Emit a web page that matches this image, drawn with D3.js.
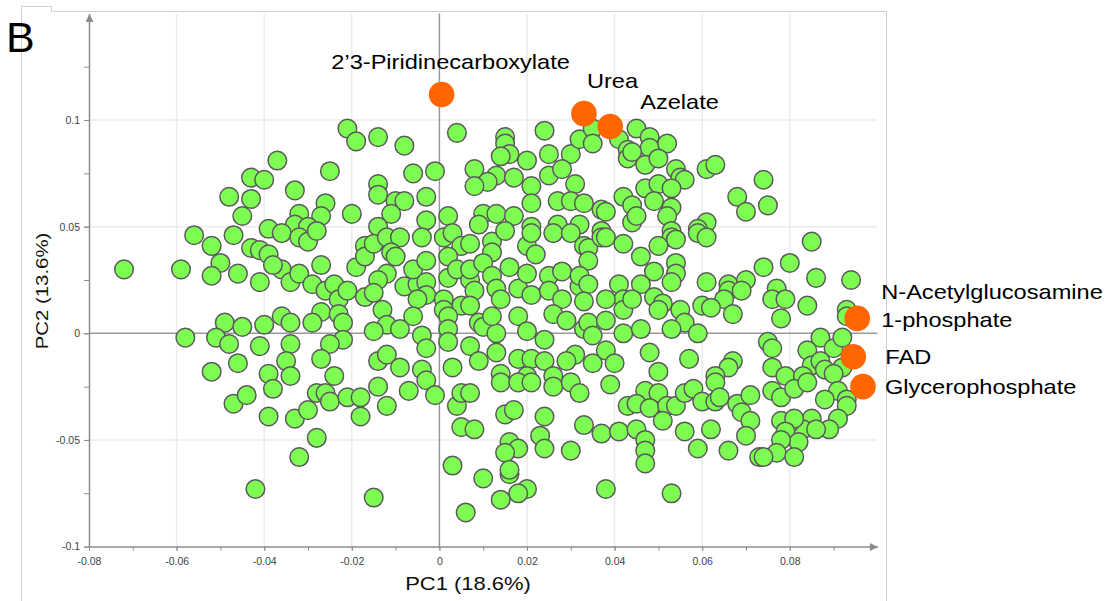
<!DOCTYPE html>
<html>
<head>
<meta charset="utf-8">
<script src="https://cdn.jsdelivr.net/npm/d3@7"></script>
<style>
  html, body { margin: 0; padding: 0; background: #ffffff; }
  svg { display: block; font-family: "Liberation Sans", Arial, sans-serif; }
</style>
</head>
<body>
<div id="chart"></div>
<script>
// PCA scores (PC1, PC2).
const scores = [
  [-0.021,0.096],[-0.019,0.090],[-0.037,0.081],[-0.043,0.073],[-0.040,0.072],[-0.048,0.064],[-0.043,0.063],
  [-0.033,0.067],[-0.025,0.076],[-0.045,0.055],[-0.026,0.061],[-0.032,0.056],[-0.027,0.055],[-0.020,0.056],
  [-0.033,0.051],[-0.030,0.050],[-0.056,0.046],[-0.047,0.046],[-0.039,0.049],[-0.036,0.047],[-0.052,0.041],
  [-0.043,0.040],[-0.041,0.039],[-0.039,0.037],[-0.050,0.033],[-0.052,0.027],[-0.046,0.028],[-0.041,0.024],
  [-0.036,0.030],[-0.038,0.032],[-0.034,0.024],[-0.032,0.028],[-0.027,0.032],[-0.029,0.023],[-0.026,0.020],
  [-0.024,0.023],[-0.023,0.016],[-0.021,0.020],[-0.017,0.017],[-0.019,0.031],[-0.017,0.041],[-0.017,0.036],
  [-0.032,0.045],[-0.030,0.043],[-0.028,0.048],[-0.072,0.030],[-0.059,0.030],[-0.058,-0.002],[-0.049,0.005],
  [-0.051,-0.002],[-0.048,-0.005],[-0.045,0.003],[-0.040,0.004],[-0.036,0.008],[-0.034,0.005],[-0.041,-0.006],
  [-0.034,-0.005],[-0.027,0.010],[-0.029,0.005],[-0.023,0.009],[-0.022,0.005],[-0.022,-0.003],[-0.025,-0.005],
  [-0.027,-0.012],[-0.046,-0.014],[-0.052,-0.018],[-0.035,-0.013],[-0.034,-0.020],[-0.039,-0.019],[-0.024,-0.020],
  [-0.047,-0.033],[-0.044,-0.029],[-0.039,-0.039],[-0.038,-0.026],[-0.033,-0.040],[-0.030,-0.036],[-0.028,-0.028],
  [-0.026,-0.028],[-0.025,-0.032],[-0.021,-0.030],[-0.018,-0.030],[-0.018,-0.039],[-0.028,-0.049],[-0.032,-0.058],
  [-0.042,-0.073],[-0.014,0.092],[-0.008,0.088],[0.004,0.094],[0.015,0.092],[0.015,0.089],[0.024,0.095],
  [0.016,0.084],[0.014,0.083],[0.020,0.081],[0.025,0.084],[0.030,0.084],[0.032,0.091],[0.035,0.096],
  [0.035,0.089],[0.041,0.091],[0.043,0.086],[0.043,0.082],[-0.006,0.075],[-0.001,0.076],[0.008,0.077],
  [0.013,0.074],[0.017,0.073],[0.011,0.071],[0.008,0.069],[0.025,0.074],[0.028,0.077],[0.031,0.070],
  [0.021,0.069],[0.021,0.061],[0.027,0.062],[0.030,0.062],[0.033,0.061],[0.037,0.058],[0.038,0.057],
  [0.042,0.064],[-0.014,0.070],[-0.014,0.065],[-0.010,0.062],[-0.008,0.062],[-0.011,0.056],[-0.003,0.064],
  [-0.003,0.053],[0.002,0.055],[0.010,0.056],[0.013,0.056],[0.017,0.055],[-0.014,0.050],[0.009,0.051],
  [0.021,0.050],[0.027,0.051],[0.032,0.051],[0.037,0.048],[0.044,0.052],[0.045,0.096],[0.048,0.092],
  [0.048,0.087],[0.052,0.089],[0.044,0.085],[0.047,0.079],[0.050,0.082],[0.054,0.077],[0.055,0.073],
  [0.056,0.072],[0.047,0.068],[0.050,0.070],[0.053,0.068],[0.044,0.060],[0.049,0.062],[0.053,0.059],
  [0.052,0.055],[0.045,0.055],[0.061,0.077],[0.063,0.079],[0.068,0.064],[0.070,0.057],[0.074,0.072],
  [0.075,0.060],[0.061,0.052],[0.059,0.049],[0.053,0.048],[-0.015,0.042],[-0.012,0.045],[-0.009,0.045],
  [-0.011,0.038],[-0.010,0.036],[-0.004,0.045],[0.001,0.045],[0.003,0.047],[0.005,0.041],[0.007,0.042],
  [0.012,0.043],[0.012,0.038],[0.015,0.048],[0.020,0.041],[0.021,0.047],[0.022,0.037],[0.026,0.047],
  [0.030,0.047],[0.033,0.041],[0.034,0.040],[0.034,0.034],[0.037,0.045],[0.038,0.045],[0.042,0.042],
  [-0.012,0.028],[-0.014,0.025],[-0.015,0.019],[-0.008,0.022],[-0.005,0.023],[-0.006,0.030],[-0.003,0.034],
  [-0.003,0.024],[0.002,0.026],[0.002,0.036],[0.004,0.030],[0.007,0.025],[0.007,0.030],[0.010,0.033],
  [0.012,0.027],[0.008,0.020],[0.013,0.021],[0.014,0.016],[0.016,0.031],[0.018,0.021],[0.021,0.018],
  [0.020,0.028],[0.025,0.027],[0.028,0.029],[0.025,0.020],[0.028,0.016],[0.032,0.022],[0.032,0.027],
  [0.034,0.023],[0.033,0.015],[0.041,0.023],[0.042,0.016],[0.038,0.016],[-0.003,0.018],[-0.005,0.016],
  [0.001,0.016],[0.005,0.013],[0.007,0.013],[-0.013,0.011],[-0.012,0.004],[-0.006,0.008],[-0.015,0.001],
  [-0.009,0.002],[-0.004,-0.001],[0.001,0.011],[0.002,0.008],[0.002,0.002],[0.009,0.005],[0.010,0.003],
  [0.013,0.000],[0.012,0.008],[0.018,0.008],[0.020,0.001],[0.024,-0.003],[0.026,0.009],[0.029,0.006],
  [0.033,0.002],[0.034,0.005],[0.035,-0.001],[0.038,0.006],[0.042,0.011],[0.042,0.000],[-0.003,-0.007],
  [0.002,-0.004],[0.007,-0.006],[0.013,-0.009],[-0.014,-0.013],[-0.012,-0.010],[-0.009,-0.016],[-0.004,-0.017],
  [-0.003,-0.022],[0.003,-0.016],[0.009,-0.013],[0.014,-0.019],[0.018,-0.012],[0.021,-0.012],[0.024,-0.013],
  [0.026,-0.020],[0.031,-0.010],[0.029,-0.013],[0.035,-0.014],[0.038,-0.008],[0.040,-0.014],[0.020,-0.020],
  [-0.014,-0.025],[-0.012,-0.034],[-0.007,-0.027],[-0.001,-0.029],[0.004,-0.034],[0.005,-0.028],[0.007,-0.028],
  [0.014,-0.023],[0.018,-0.023],[0.021,-0.023],[0.026,-0.025],[0.030,-0.023],[0.032,-0.028],[0.039,-0.024],
  [0.015,-0.038],[0.017,-0.036],[0.024,-0.039],[0.005,-0.044],[0.008,-0.045],[0.033,-0.043],[0.037,-0.047],
  [0.041,-0.046],[0.043,-0.034],[0.023,-0.048],[0.024,-0.054],[0.016,-0.051],[0.018,-0.054],[0.015,-0.056],
  [0.030,-0.055],[0.003,-0.062],[0.016,-0.066],[0.016,-0.064],[0.010,-0.068],[0.020,-0.073],[0.018,-0.075],
  [0.014,-0.078],[0.006,-0.084],[0.038,-0.073],[-0.015,-0.077],[0.053,0.045],[0.054,0.044],[0.059,0.047],
  [0.061,0.045],[0.050,0.041],[0.046,0.036],[0.049,0.029],[0.054,0.033],[0.054,0.028],[0.053,0.024],
  [0.046,0.023],[0.044,0.016],[0.049,0.017],[0.051,0.014],[0.050,0.011],[0.055,0.011],[0.056,0.005],
  [0.053,0.002],[0.059,0.000],[0.046,0.002],[0.061,0.024],[0.066,0.023],[0.070,0.025],[0.074,0.031],
  [0.080,0.033],[0.085,0.043],[0.086,0.026],[0.094,0.025],[0.066,0.020],[0.069,0.020],[0.065,0.016],
  [0.060,0.013],[0.062,0.012],[0.067,0.009],[0.077,0.021],[0.076,0.016],[0.079,0.016],[0.078,0.007],
  [0.084,0.013],[0.093,0.011],[0.093,0.008],[0.075,-0.004],[0.076,-0.007],[0.087,-0.002],[0.084,-0.008],
  [0.090,-0.007],[0.092,-0.002],[0.048,-0.009],[0.057,-0.012],[0.067,-0.013],[0.066,-0.016],[0.050,-0.018],
  [0.063,-0.020],[0.076,-0.016],[0.085,-0.015],[0.087,-0.013],[0.088,-0.017],[0.092,-0.016],[0.079,-0.020],
  [0.083,-0.020],[0.090,-0.019],[0.091,-0.027],[0.088,-0.031],[0.093,-0.031],[0.047,-0.027],[0.050,-0.028],
  [0.045,-0.033],[0.048,-0.035],[0.052,-0.034],[0.054,-0.034],[0.056,-0.028],[0.058,-0.026],[0.063,-0.023],
  [0.060,-0.032],[0.063,-0.032],[0.064,-0.030],[0.068,-0.033],[0.069,-0.037],[0.071,-0.029],[0.071,-0.041],
  [0.076,-0.027],[0.078,-0.030],[0.081,-0.026],[0.084,-0.023],[0.093,-0.034],[0.091,-0.040],[0.089,-0.045],
  [0.085,-0.040],[0.083,-0.045],[0.080,-0.042],[0.078,-0.041],[0.081,-0.040],[0.086,-0.045],[0.079,-0.046],
  [0.082,-0.051],[0.078,-0.050],[0.077,-0.056],[0.073,-0.058],[0.074,-0.058],[0.081,-0.058],[0.070,-0.048],
  [0.066,-0.055],[0.062,-0.045],[0.059,-0.054],[0.056,-0.046],[0.051,-0.041],[0.045,-0.045],[0.047,-0.050],
  [0.047,-0.055],[0.047,-0.061],[0.053,-0.075]
];

// Highlighted metabolites.
const hlNames = ["2\u20193-Piridinecarboxylate", "Urea", "Azelate", "N-Acetylglucosamine\n1-phosphate", "FAD", "Glycerophosphate"];
const hlPC1 = [0.0005, 0.033, 0.039, 0.0954, 0.0945, 0.0967];
const hlPC2 = [0.112, 0.103, 0.097, 0.007, -0.011, -0.025];

// Axis ticks.
const xTicks = [-0.08, -0.06, -0.04, -0.02, 0, 0.02, 0.04, 0.06, 0.08];
const yTicks = [-0.1, -0.05, 0, 0.05, 0.1];
const xMinor = [-0.08, -0.07, -0.06, -0.05, -0.04, -0.03, -0.02, -0.01, 0, 0.01, 0.02, 0.03, 0.04, 0.05, 0.06, 0.07, 0.08, 0.09];
const yMinor = [-0.1, -0.075, -0.05, -0.025, 0, 0.025, 0.05, 0.075, 0.1, 0.125];

// Label placement relative to each highlighted point (pixels): anchor, dx, dy of first line.
const labelLayout = [
  { anchor: "middle", dx: 9, dy: -25 },
  { anchor: "start", dx: 3, dy: -26 },
  { anchor: "start", dx: 30, dy: -17 },
  { anchor: "start", dx: 24, dy: -19 },
  { anchor: "start", dx: 32, dy: 7 },
  { anchor: "start", dx: 22, dy: 7 }
];

const width = 1114, height = 601;
const x = d3.scaleLinear().domain([-0.08, 0.1]).range([89, 877.4]);
const y = d3.scaleLinear().domain([-0.1, 0.15]).range([546.6, 13.4]);

const svg = d3.select("#chart").append("svg")
  .attr("width", width)
  .attr("height", height)
  .attr("viewBox", [0, 0, width, height]);

// Arrow heads for the axes.
svg.append("defs").append("marker")
  .attr("id", "arrow")
  .attr("viewBox", "0 0 10 10")
  .attr("refX", 10).attr("refY", 5)
  .attr("markerUnits", "userSpaceOnUse")
  .attr("markerWidth", 13).attr("markerHeight", 8)
  .attr("orient", "auto")
  .append("path")
  .attr("d", "M0,0L10,5L0,10Z")
  .attr("fill", "#8c8c8c");

// Panel frame.
svg.append("path")
  .attr("d", "M21.5,601V6.5H51.5V11.5H886.5V601")
  .attr("fill", "none")
  .attr("stroke", "#cfcfcf")
  .attr("stroke-width", 1);

// Big panel letter.
svg.append("text")
  .attr("x", 6).attr("y", 52)
  .attr("font-size", 43)
  .attr("fill", "#000")
  .text("B");

// Grid lines.
const grid = svg.append("g").attr("stroke", "#ebebeb").attr("stroke-width", 1.5);
grid.selectAll(".vgrid")
  .data(xTicks.filter(d => d !== 0 && d !== -0.08))
  .join("line")
  .attr("x1", d => x(d)).attr("x2", d => x(d))
  .attr("y1", y(0.15)).attr("y2", y(-0.1));
grid.selectAll(".hgrid")
  .data(yTicks.filter(d => d !== 0 && d !== -0.1))
  .join("line")
  .attr("x1", x(-0.08)).attr("x2", x(0.1))
  .attr("y1", d => y(d)).attr("y2", d => y(d));

// Zero lines.
svg.append("line")
  .attr("x1", x(0)).attr("x2", x(0))
  .attr("y1", y(0.15)).attr("y2", y(-0.1))
  .attr("stroke", "#9a9a9a").attr("stroke-width", 1.5);
svg.append("line")
  .attr("x1", x(-0.08)).attr("x2", x(0.1))
  .attr("y1", y(0)).attr("y2", y(0))
  .attr("stroke", "#9a9a9a").attr("stroke-width", 1.5);

// Axes.
const tickText = g => g.selectAll("text")
  .attr("font-family", "'Liberation Sans', Arial, sans-serif")
  .attr("font-size", 10.5)
  .attr("fill", "#3b3f48");

svg.append("g")
  .attr("transform", `translate(0,${y(-0.1)})`)
  .call(d3.axisBottom(x).tickValues(xTicks).tickFormat(d => String(d)).tickSize(4).tickPadding(7).tickSizeOuter(0))
  .call(tickText);
svg.append("g")
  .attr("transform", `translate(0,${y(-0.1)})`)
  .call(d3.axisBottom(x).tickValues(xMinor).tickFormat("").tickSize(4).tickSizeOuter(0))
  .call(g => g.select(".domain").remove());

svg.append("g")
  .attr("transform", `translate(${x(-0.08)},0)`)
  .call(d3.axisLeft(y).tickValues(yTicks).tickFormat(d => String(d)).tickSize(5).tickPadding(4).tickSizeOuter(0))
  .call(tickText);
svg.append("g")
  .attr("transform", `translate(${x(-0.08)},0)`)
  .call(d3.axisLeft(y).tickValues(yMinor).tickFormat("").tickSize(5).tickSizeOuter(0))
  .call(g => g.select(".domain").remove());

svg.selectAll(".domain")
  .attr("stroke", "#8c8c8c")
  .attr("stroke-width", 1.5)
  .attr("marker-end", "url(#arrow)");
svg.selectAll(".tick line").attr("stroke", "#8c8c8c");

// Axis titles (drawn slightly wide, like the original).
svg.append("text")
  .attr("transform", "translate(468,590) scale(1.22,1)")
  .attr("text-anchor", "middle")
  .attr("font-size", 18)
  .attr("fill", "#111")
  .text("PC1 (18.6%)");
svg.append("text")
  .attr("transform", "translate(48,291) rotate(-90) scale(1.2,1)")
  .attr("text-anchor", "middle")
  .attr("font-size", 17)
  .attr("fill", "#111")
  .text("PC2 (13.6%)");

// Green score points.
svg.append("g")
  .selectAll("circle")
  .data(scores)
  .join("circle")
  .attr("cx", d => x(d[0]))
  .attr("cy", d => y(d[1]))
  .attr("r", 9.3)
  .attr("fill", "#7dfc52")
  .attr("stroke", "#5a5a5a")
  .attr("stroke-width", 1.5);

// Highlighted orange points.
const hl = hlNames.map((name, i) => ({ name, pc1: hlPC1[i], pc2: hlPC2[i], layout: labelLayout[i] }));
svg.append("g")
  .selectAll("circle")
  .data(hl)
  .join("circle")
  .attr("cx", d => x(d.pc1))
  .attr("cy", d => y(d.pc2))
  .attr("r", 12.8)
  .attr("fill", "#ff6600");

// Labels (the original text is drawn slightly wide).
const labels = svg.append("g")
  .selectAll("text")
  .data(hl)
  .join("text")
  .attr("transform", d => `translate(${x(d.pc1) + d.layout.dx},${y(d.pc2) + d.layout.dy}) scale(1.18,1)`)
  .attr("text-anchor", d => d.layout.anchor)
  .attr("font-size", 20)
  .attr("fill", "#000");
labels.each(function(d) {
  d.name.split("\n").forEach((line, k) => {
    d3.select(this).append("tspan")
      .attr("x", 0)
      .attr("y", k * 28)
      .text(line);
  });
});
</script>
</body>
</html>
